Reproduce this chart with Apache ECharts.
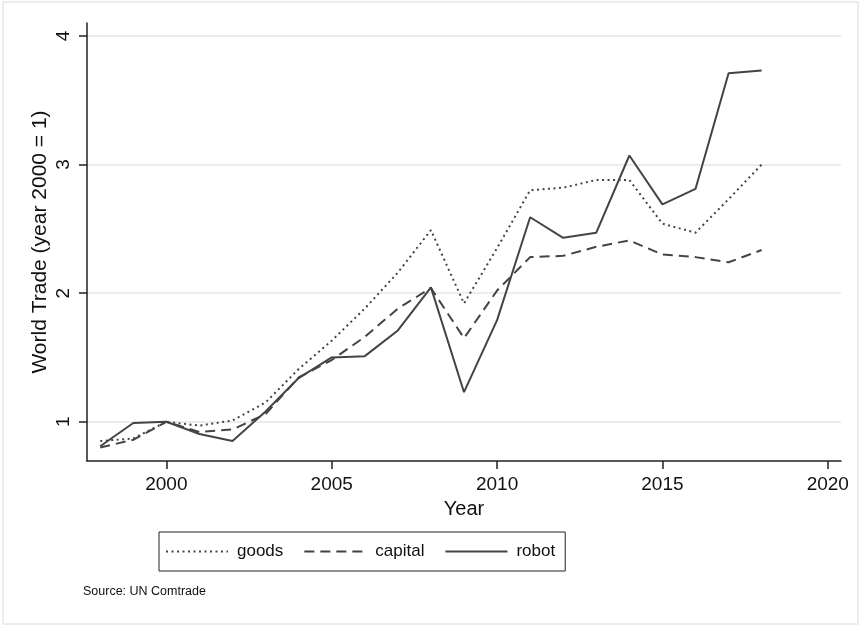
<!DOCTYPE html>
<html>
<head>
<meta charset="utf-8">
<script src="https://cdn.jsdelivr.net/npm/echarts@6/dist/echarts.min.js"></script>
<style>
  html, body { margin: 0; padding: 0; background: #fff; }
  #chart { width: 861px; height: 626px; }
</style>
</head>
<body>
<div id="chart"></div>
<script>
const years = [1998, 1999, 2000, 2001, 2002, 2003, 2004, 2005, 2006, 2007, 2008,
  2009, 2010, 2011, 2012, 2013, 2014, 2015, 2016, 2017, 2018];
const goods = [0.85, 0.87, 1.0, 0.97, 1.01, 1.15, 1.41, 1.63, 1.88, 2.16, 2.49,
  1.92, 2.35, 2.80, 2.82, 2.88, 2.88, 2.54, 2.47, 2.73, 3.0];
const capital = [0.80, 0.86, 1.0, 0.92, 0.94, 1.06, 1.345, 1.48, 1.66, 1.88, 2.04,
  1.65, 2.02, 2.28, 2.29, 2.36, 2.41, 2.30, 2.28, 2.24, 2.335];
const robot = [0.81, 0.99, 1.0, 0.905, 0.85, 1.08, 1.34, 1.50, 1.51, 1.71, 2.045,
  1.23, 1.79, 2.59, 2.43, 2.47, 3.07, 2.69, 2.81, 3.71, 3.73];
const xTicks = [2000, 2005, 2010, 2015, 2020];
const yTicks = [1, 2, 3, 4];
const seriesNames = ['goods', 'capital', 'robot'];

const font = 'Liberation Sans, Arial, Helvetica, sans-serif';
const ink = '#444';

const pair = (vals) => years.map((y, i) => [y, vals[i]]);

const chart = echarts.init(document.getElementById('chart'));

const option = {
  backgroundColor: '#fff',
  animation: false,
  textStyle: { fontFamily: font },
  grid: { left: 87, right: 20, top: 23, bottom: 165 },
  xAxis: {
    type: 'value',
    min: 1997.6,
    max: 2020.4,
    name: 'Year',
    nameLocation: 'middle',
    nameGap: 38,
    nameMoveOverlap: false,
    nameTextStyle: { fontSize: 20, color: '#111', fontFamily: font },
    axisLine: { show: true, lineStyle: { color: '#222', width: 1.5 } },
    axisTick: { show: true, length: 8, customValues: xTicks, lineStyle: { color: '#222', width: 1.5 } },
    axisLabel: {
      customValues: xTicks, margin: 14, fontSize: 19, color: '#111', fontFamily: font,
      formatter: (v) => String(v)
    },
    splitLine: { show: false }
  },
  yAxis: {
    type: 'value',
    min: 0.695,
    max: 4.1,
    name: 'World Trade (year 2000 = 1)',
    nameLocation: 'middle',
    nameRotate: 90,
    nameGap: 36,
    nameMoveOverlap: false,
    nameTextStyle: { fontSize: 21, color: '#111', fontFamily: font },
    axisLine: { show: true, lineStyle: { color: '#222', width: 1.5 } },
    axisTick: { show: true, length: 8, customValues: yTicks, lineStyle: { color: '#222', width: 1.5 } },
    axisLabel: { customValues: yTicks, rotate: 90, margin: 14, fontSize: 19, color: '#111', fontFamily: font },
    splitLine: { show: true, lineStyle: { color: '#e6e6e6', width: 1.5 } }
  },
  legend: {
    left: 159,
    top: 532,
    data: seriesNames,
    orient: 'horizontal',
    itemWidth: 62,
    itemHeight: 14,
    itemGap: 20,
    padding: [11, 10, 11, 6],
    borderColor: '#222',
    borderWidth: 1,
    borderRadius: 0,
    itemStyle: { opacity: 0 },
    textStyle: { fontSize: 17, color: '#111', fontFamily: font, padding: [0, 0, 0, 4] }
  },
  graphic: [
    {
      type: 'rect',
      shape: { x: 3, y: 2, width: 855, height: 622 },
      style: { fill: 'none', stroke: '#e8e8e8', lineWidth: 1.5 },
      silent: true
    },
    {
      type: 'text',
      left: 83,
      top: 585,
      style: { text: 'Source: UN Comtrade', fontSize: 12.5, fill: '#111', fontFamily: font }
    }
  ],
  series: [
    {
      name: seriesNames[0],
      type: 'line',
      data: pair(goods),
      symbol: 'none',
      lineStyle: { color: ink, width: 2, type: [2, 3.5] },
      itemStyle: { color: ink }
    },
    {
      name: seriesNames[1],
      type: 'line',
      data: pair(capital),
      symbol: 'none',
      lineStyle: { color: ink, width: 2, type: [10, 6] },
      itemStyle: { color: ink }
    },
    {
      name: seriesNames[2],
      type: 'line',
      data: pair(robot),
      symbol: 'none',
      lineStyle: { color: ink, width: 2 },
      itemStyle: { color: ink }
    }
  ]
};

chart.setOption(option);
</script>
</body>
</html>
